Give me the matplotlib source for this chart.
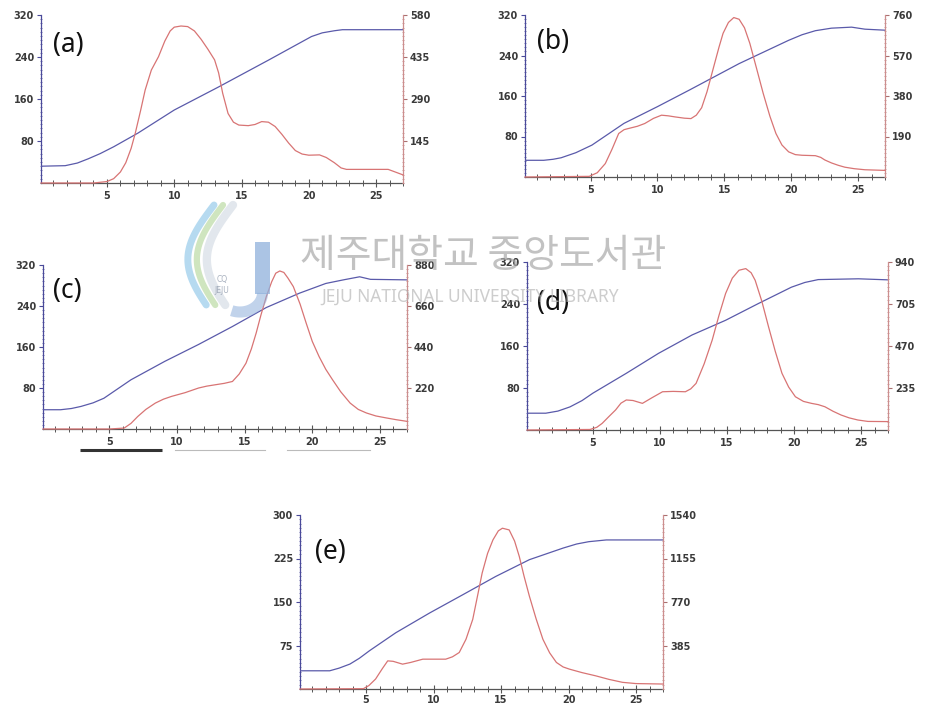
import matplotlib
matplotlib.use("Agg")
import matplotlib.pyplot as plt
from matplotlib.ticker import MultipleLocator
from matplotlib.patches import Rectangle
import numpy as np

# ---------------- data ----------------
labels = ["(a)", "(b)", "(c)", "(d)", "(e)"]
left_max = [320, 320, 320, 320, 300]
right_max = [580, 760, 880, 940, 1540]
x_ticks = [5, 10, 15, 20, 25]

a_blue_x = [0.1, 1.9, 2.8, 3.6, 4.5, 5.5, 7.3, 10.0, 13.3, 17.0, 20.2, 21.0, 21.9, 22.5, 27.0]
a_blue_y = [32, 33, 38, 46, 56, 69, 95, 139, 183, 234, 279, 286, 290, 292, 292]
a_red_x = [0.1, 4.0, 5.0, 5.5, 6.0, 6.4, 6.8, 7.1, 7.5, 7.84, 8.3, 8.83, 9.3, 9.7, 10.0, 10.5,
           11.0, 11.5, 12.0, 12.5, 13.0, 13.3, 13.6, 14.0, 14.4, 14.8, 15.5, 16.0, 16.5, 17.0,
           17.5, 18.0, 18.5, 19.0, 19.5, 20.0, 20.8, 21.3, 21.9, 22.4, 22.8, 25.9, 27.0]
a_red_y = [0, 0, 5, 15, 38, 70, 120, 171, 250, 321, 390, 436, 490, 525, 538, 542,
           540, 525, 496, 462, 425, 380, 310, 240, 210, 200, 198, 202, 212, 210,
           195, 168, 138, 112, 100, 96, 97, 88, 70, 52, 47, 47, 28]

b_blue_x = [0.1, 1.5, 2.2, 2.8, 3.9, 5.1, 7.5, 10.0, 12.4, 16.1, 19.8, 20.8, 21.8, 23.0, 24.5, 25.5, 27.0]
b_blue_y = [33, 33, 35, 38, 48, 63, 106, 139, 172, 224, 270, 281, 289, 294, 296, 292, 290]
b_red_x = [0.1, 4.9, 5.5, 6.1, 6.6, 7.1, 7.5, 7.8, 8.5, 9.05, 9.7, 10.3, 10.8, 11.3, 12.0, 12.5,
           12.9, 13.3, 13.7, 14.2, 14.6, 14.9, 15.3, 15.7, 16.1, 16.5, 16.9, 17.4, 17.9, 18.4,
           18.85, 19.3, 19.8, 20.3, 20.8, 21.8, 22.2, 22.5, 23.0, 23.5, 24.0, 24.7, 25.5, 27.0]
b_red_y = [0, 3, 20, 63, 130, 204, 222, 227, 238, 251, 275, 290, 287, 282, 276, 274,
           290, 325, 400, 517, 610, 674, 725, 748, 740, 700, 627, 510, 392, 285,
           204, 150, 118, 105, 102, 100, 92, 80, 66, 55, 46, 39, 34, 31]

c_blue_x = [0.1, 1.4, 2.2, 2.9, 3.8, 4.6, 5.6, 6.6, 9.1, 11.6, 14.1, 16.6, 19.05, 21.0, 22.3, 23.5, 24.3, 27.0]
c_blue_y = [37.6, 37.6, 40, 44, 51, 60, 78, 96, 132, 165, 200, 237, 265, 284, 291, 297, 292, 291]
c_red_x = [0.1, 5.0, 6.1, 6.6, 7.1, 7.7, 8.4, 9.0, 9.6, 10.6, 11.6, 12.2, 12.8, 13.5, 14.1,
           14.6, 15.1, 15.5, 15.85, 16.2, 16.6, 17.0, 17.3, 17.6, 17.9, 18.2, 18.6, 19.1,
           19.55, 20.0, 20.5, 21.0, 21.5, 22.1, 22.8, 23.4, 24.0, 24.7, 25.5, 26.2, 27.0]
c_red_y = [0, 0, 5, 30, 67, 105, 139, 160, 175, 195, 220, 230, 237, 245, 255,
           295, 353, 430, 514, 610, 710, 790, 836, 848, 840, 810, 764, 670,
           568, 470, 389, 320, 264, 200, 139, 105, 86, 70, 59, 50, 41]

d_blue_x = [0.1, 1.5, 2.4, 3.3, 4.2, 5.0, 7.5, 9.9, 12.4, 14.9, 17.35, 19.8, 20.8, 21.8, 24.8, 27.0]
d_blue_y = [32, 32, 36, 44, 56, 70, 108, 146, 181, 209, 241, 272, 281, 286.5, 288, 286]
d_red_x = [0.1, 4.8, 5.3, 5.7, 6.2, 6.7, 7.1, 7.5, 8.0, 8.7, 9.4, 10.2, 11.0, 11.9, 12.3, 12.7,
           13.3, 13.9, 14.4, 14.9, 15.4, 15.9, 16.4, 16.8, 17.1, 17.6, 18.1, 18.6, 19.1, 19.6,
           20.1, 20.7, 21.3, 21.8, 22.3, 22.9, 23.5, 24.1, 24.75, 25.5, 27.0]
d_red_y = [0, 3, 15, 37, 75, 112, 150, 168, 165, 149, 180, 214, 216, 214, 230, 261,
           370, 503, 640, 764, 850, 894, 903, 880, 838, 720, 577, 440, 317, 240,
           186, 160, 149, 142, 130, 105, 84, 68, 56, 48, 47]

e_blue_x = [0.1, 2.3, 3.0, 3.8, 4.5, 5.25, 7.2, 9.7, 12.2, 14.6, 17.1, 19.6, 20.6, 21.5, 22.8, 27.0]
e_blue_y = [31.4, 31.4, 36, 43, 53, 66, 97, 131, 163, 194, 223, 243, 250, 254, 257, 257]
e_red_x = [0.1, 4.8, 5.2, 5.7, 6.2, 6.6, 7.0, 7.7, 8.3, 9.2, 10.9, 11.4, 11.9, 12.4, 12.9,
           13.3, 13.6, 14.0, 14.4, 14.8, 15.1, 15.6, 16.0, 16.35, 16.7, 17.1, 17.6, 18.1,
           18.6, 19.1, 19.6, 20.06, 21.0, 22.0, 23.0, 24.0, 25.0, 27.0]
e_red_y = [0, 3, 30, 88, 180, 249, 245, 220, 235, 264, 264, 285, 323, 440, 616,
           850, 1027, 1200, 1320, 1400, 1423, 1408, 1310, 1173, 1000, 821, 620, 440,
           320, 235, 195, 176, 145, 117, 85, 59, 48, 44]

series = [
    (a_blue_x, a_blue_y, a_red_x, a_red_y),
    (b_blue_x, b_blue_y, b_red_x, b_red_y),
    (c_blue_x, c_blue_y, c_red_x, c_red_y),
    (d_blue_x, d_blue_y, d_red_x, d_red_y),
    (e_blue_x, e_blue_y, e_red_x, e_red_y),
]

# ---------------- layout (pixels) ----------------
W, H = 926, 706
boxes = [(41, 403, 15, 183), (525, 885, 15, 177), (43, 407, 265, 429),
         (527, 888, 262, 430), (300, 663, 515, 689)]
label_pos = [(53, 45), (537, 42), (53, 291), (537, 303), (315, 552)]
xpads = [3, 3, 3, 3, 1.2]

BLUE = "#5a5aaa"
RED = "#d87474"
TXT = "#3a3a3a"

fig = plt.figure(figsize=(W / 100, H / 100), dpi=100)
fig.patch.set_facecolor("white")

for i, (bx, by, rx, ry) in enumerate(series):
    l, r, t, b = boxes[i]
    ax = fig.add_axes([l / W, 1 - b / H, (r - l) / W, (b - t) / H])
    ax2 = ax.twinx()
    ax.set_xlim(0.1, 27)
    ax.set_ylim(0, left_max[i])
    ax2.set_ylim(0, right_max[i])

    ax.plot(bx, by, color=BLUE, lw=0.9, zorder=3)
    ax2.plot(rx, ry, color=RED, lw=0.9, zorder=3, clip_on=False)

    ax.spines["top"].set_visible(False)
    ax2.spines["top"].set_visible(False)
    ax.spines["right"].set_visible(False)
    ax2.spines["left"].set_visible(False)
    ax2.spines["bottom"].set_visible(False)
    ax.spines["left"].set_color("#4a4a9a")
    ax.spines["bottom"].set_color("#555555")
    ax2.spines["right"].set_color("#cc8e8e")
    for sp in [ax.spines["left"], ax.spines["bottom"], ax2.spines["right"]]:
        sp.set_linewidth(0.9)

    ax.set_xticks(x_ticks)
    ax.set_xticklabels([str(v) for v in x_ticks])
    ax.xaxis.set_minor_locator(MultipleLocator(1))
    ax.tick_params(axis="x", which="major", direction="inout", length=6, width=0.8,
                   colors="#555555", labelcolor=TXT, labelsize=7, pad=xpads[i])
    ax.tick_params(axis="x", which="minor", direction="inout", length=4, width=0.7, colors="#555555")

    lm = left_max[i]
    ax.set_yticks([lm / 4 * k for k in range(1, 5)])
    ax.set_yticklabels([f"{int(lm / 4 * k)}" for k in range(1, 5)])
    ax.yaxis.set_minor_locator(MultipleLocator(lm / 40))
    ax.tick_params(axis="y", which="major", direction="out", length=3, width=0.8,
                   colors="#4a4a9a", labelcolor=TXT, labelsize=7, pad=2)
    ax.tick_params(axis="y", which="minor", direction="inout", length=2, width=0.6, colors="#6a6aaa")

    rm = right_max[i]
    ax2.set_yticks([rm / 4 * k for k in range(1, 5)])
    ax2.set_yticklabels([f"{int(rm / 4 * k)}" for k in range(1, 5)])
    ax2.yaxis.set_minor_locator(MultipleLocator(rm / 40))
    ax2.tick_params(axis="y", which="major", direction="out", length=3, width=0.8,
                    colors="#aa7070", labelcolor=TXT, labelsize=7, pad=2)
    ax2.tick_params(axis="y", which="minor", direction="inout", length=2, width=0.6, colors="#c89090")
    for lab in ax.get_xticklabels() + ax.get_yticklabels() + ax2.get_yticklabels():
        lab.set_fontweight("bold")

    lx, ly = label_pos[i]
    fig.text(lx / W, 1 - ly / H, labels[i], fontsize=19, ha="left", va="center",
             color="#111111", family="Noto Sans")

# ---------------- watermark / artefacts overlay ----------------
ov = fig.add_axes([0, 0, 1, 1], zorder=10)
ov.set_xlim(0, W)
ov.set_ylim(H, 0)
ov.axis("off")
ov.patch.set_alpha(0)

ov.text(483, 256, "제주대학교 중앙도서관", fontsize=28, ha="center", va="center",
        color="#a8a8a8", alpha=0.7, family=["Noto Sans CJK KR", "DejaVu Sans"])
ov.text(470, 297, "JEJU NATIONAL UNIVERSITY LIBRARY", fontsize=12.5, ha="center", va="center",
        color="#b8b8b8", alpha=0.7, family="Noto Sans")

# logo (simplified)
t = np.linspace(0, 1, 60)
for off, col, lw in [(0, "#a9d4ee", 5), (9, "#c7e1b4", 4.5), (19, "#dde3ea", 6)]:
    xs = 214 + off - 24 * np.sin(np.pi * t * 0.95) - 4 * t
    ys = 205 + 100 * t
    ov.plot(xs, ys, color=col, lw=lw, alpha=0.85, solid_capstyle="round")
ov.add_patch(Rectangle((255, 242), 15, 52, color="#8fb0dc", alpha=0.75, lw=0))
ang = np.linspace(0, np.pi * 0.62, 40)
ov.plot(240 + 22.5 * np.cos(ang), 293 + 19 * np.sin(ang), color="#8fb0dc", lw=8, alpha=0.55,
        solid_capstyle="butt")
ov.text(222, 285, "CQ\nJEJU", fontsize=5.5, ha="center", va="center", color="#9aa4b4", alpha=0.85,
        linespacing=1.3)

# bars under panel (c)
ov.plot([80, 162], [450, 450], color="#333333", lw=2.2, solid_capstyle="butt")
ov.plot([175, 265], [450, 450], color="#bbbbbb", lw=0.8)
ov.plot([287, 370], [450, 450], color="#bbbbbb", lw=0.8)

fig.savefig("out.png", dpi=100, facecolor="white")
